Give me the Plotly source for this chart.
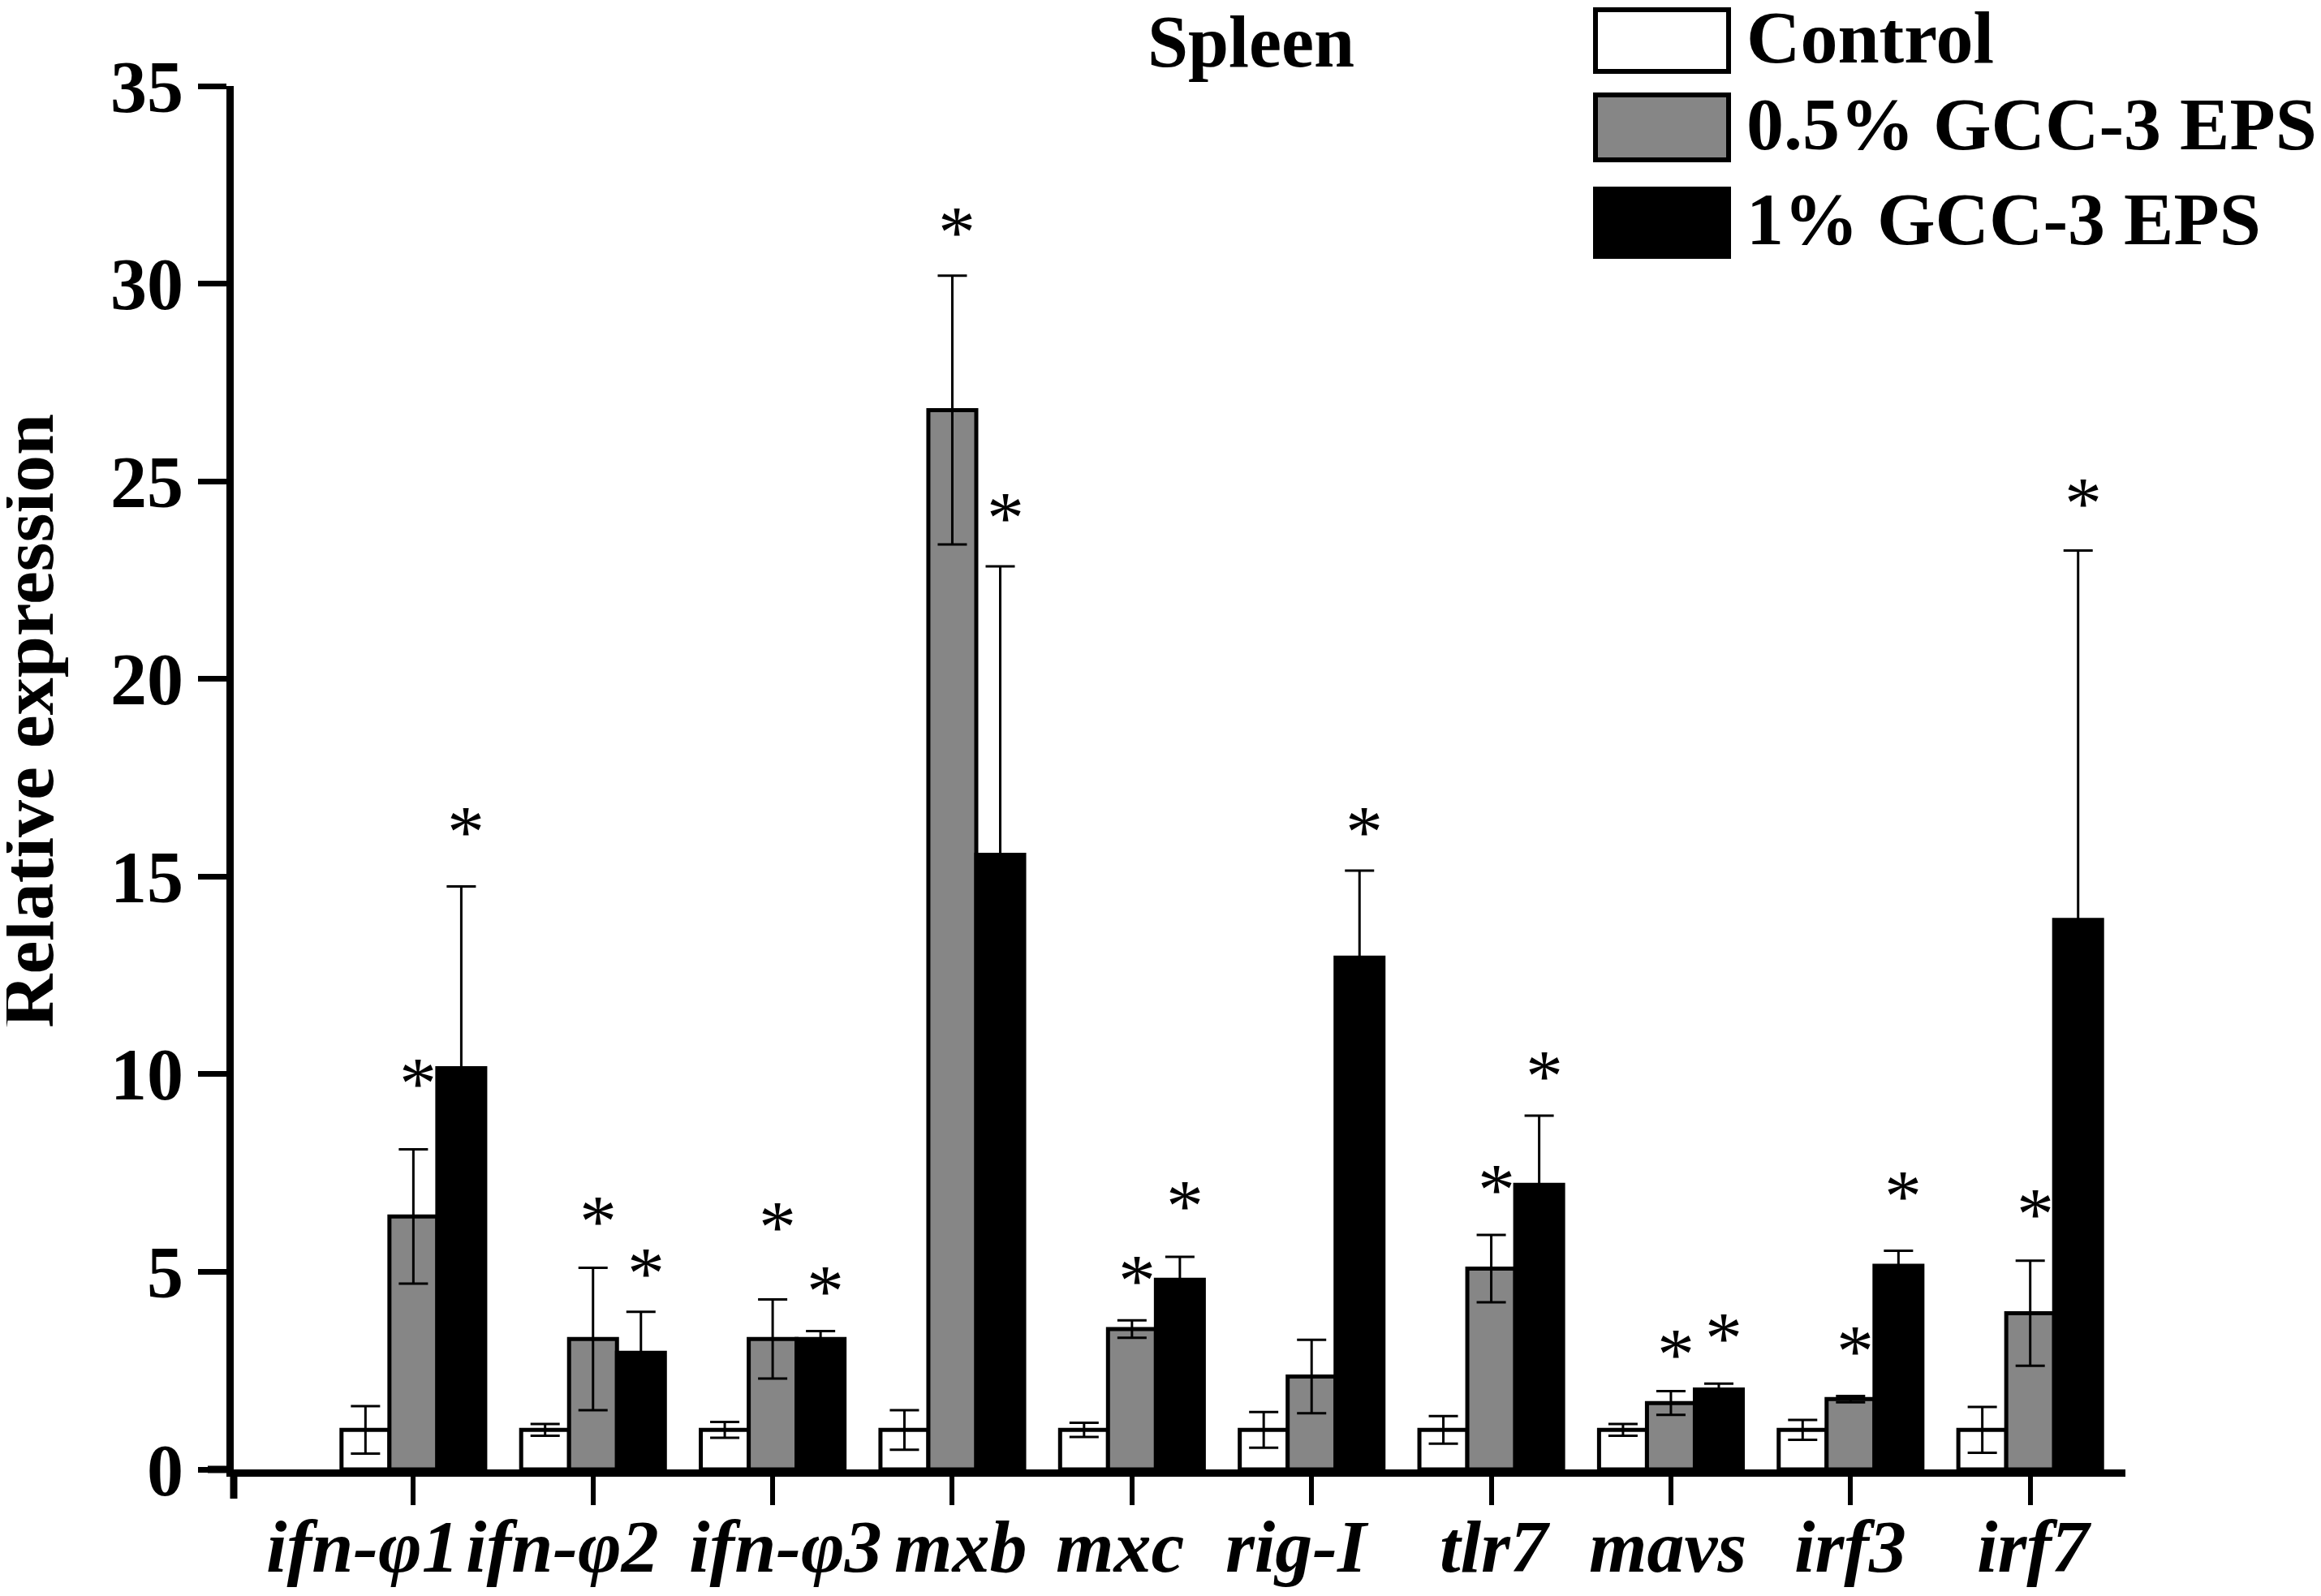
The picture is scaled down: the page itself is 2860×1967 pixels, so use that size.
"""Spleen relative expression bar chart (control vs two GCC-3 EPS doses)."""

import plotly.graph_objects as go

# ---- data ----
genes = ["ifn-φ1", "ifn-φ2", "ifn-φ3", "mxb", "mxc", "rig-I", "tlr7", "mavs", "irf3", "irf7"]

control_mean = [1.0, 1.0, 1.0, 1.0, 1.0, 1.0, 1.0, 1.0, 1.0, 1.0]
control_sd = [0.6, 0.15, 0.2, 0.5, 0.18, 0.45, 0.35, 0.15, 0.25, 0.58]

low_mean = [6.4, 3.3, 3.3, 26.8, 3.55, 2.35, 5.08, 1.68, 1.78, 3.95]
low_sd = [1.7, 1.8, 1.0, 3.4, 0.22, 0.93, 0.85, 0.3, 0.08, 1.33]

high_mean = [10.15, 2.95, 3.3, 15.55, 4.8, 12.95, 7.2, 2.02, 5.15, 13.9]
high_sd = [4.6, 1.04, 0.2, 7.3, 0.58, 2.2, 1.75, 0.15, 0.38, 9.35]

# heights (in axis units) at which the significance stars are printed; None = no star
low_star = [10.04, 6.55, 6.40, 31.57, 5.06, None, 7.34, 3.18, 3.26, 6.74]
high_star = [16.40, 5.24, 4.79, 24.34, 6.93, 16.40, 10.22, 3.60, 7.19, 24.72]

group_names = ["Control", "0.5% GCC-3 EPS", "1% GCC-3 EPS"]
group_colors = ["#ffffff", "#868686", "#000000"]

# the gene labels in the original are not exactly centred under their ticks
label_shift = [-62, -38, 16, 11, -15, -18, 5, -4, 0, 5]

FONT = "Liberation Serif"
W, H = 2860, 1967
OFF = 8  # default page margin of the html body
M = dict(l=288 - OFF, r=241 + OFF, t=106 - OFF, b=156 + OFF)

n_groups = 3
group_width = 0.8
bar_w = group_width / n_groups
idx = list(range(len(genes)))


def offsets(k):
    return [i + (k - 1) * bar_w for i in idx]


series = [
    (control_mean, control_sd),
    (low_mean, low_sd),
    (high_mean, high_sd),
]

fig = go.Figure()

for k, (mean, sd) in enumerate(series):
    fig.add_trace(
        go.Bar(
            x=offsets(k),
            y=mean,
            width=bar_w,
            name=group_names[k],
            marker=dict(color=group_colors[k], line=dict(color="#000000", width=5)),
            error_y=dict(type="data", array=sd, visible=True, color="#000000", thickness=3, width=18),
            showlegend=False,
            hoverinfo="x+y",
        )
    )

pw = W - M["l"] - M["r"]
ph = H - M["t"] - M["b"]


def px_x(v):
    # reference-picture pixel -> paper coordinate
    return (v - OFF - M["l"]) / pw


def px_y(v):
    return (H - M["b"] - (v - OFF)) / ph


annotations = []

# significance stars
for k, stars in [(1, low_star), (2, high_star)]:
    for x, s in zip(offsets(k), stars):
        if s is None:
            continue
        annotations.append(
            dict(
                x=x, y=s, xref="x", yref="y", text="*", showarrow=False,
                xanchor="center", yanchor="middle", xshift=6, yshift=-13,
                font=dict(family=FONT, size=92, color="#000000"),
            )
        )

# gene names under the axis
for i, (g, sh) in enumerate(zip(genes, label_shift)):
    annotations.append(
        dict(
            x=i, y=0, xref="x", yref="paper", text=g, showarrow=False,
            xanchor="center", yanchor="middle", xshift=sh, yshift=-95,
            font=dict(family=FONT, size=92, color="#000000", weight="bold", style="italic"),
        )
    )

# ---- hand-drawn legend (large swatches like the original) ----
legend_rows = [(12, 88), (117, 197), (233, 316)]
shapes = []
for (top, bot), name, color in zip(legend_rows, group_names, group_colors):
    shapes.append(
        dict(
            type="rect", xref="paper", yref="paper",
            x0=px_x(1966), x1=px_x(2130), y0=px_y(bot), y1=px_y(top),
            fillcolor=color, line=dict(color="#000000", width=6), layer="above",
        )
    )
    annotations.append(
        dict(
            xref="paper", yref="paper", x=px_x(2150), y=px_y((top + bot) / 2 - 4),
            xanchor="left", yanchor="middle", showarrow=False, text=name,
            font=dict(family=FONT, size=92, color="#000000", weight="bold"),
        )
    )

# axis lines run past the origin by a tick length, as in the original
shapes.append(dict(type="line", xref="paper", yref="paper", x0=0, x1=0, y0=0, y1=-36 / ph,
                   line=dict(color="#000000", width=9)))
shapes.append(dict(type="line", xref="paper", yref="paper", x0=-32 / pw, x1=0, y0=0, y1=0,
                   line=dict(color="#000000", width=9)))

annotations.append(
    dict(
        xref="paper", yref="paper", x=px_x(1541), y=px_y(52),
        xanchor="center", yanchor="middle", showarrow=False, text="Spleen",
        font=dict(family=FONT, size=90, color="#000000", weight="bold"),
    )
)
annotations.append(
    dict(
        xref="paper", yref="paper", x=px_x(34), y=px_y(889),
        xanchor="center", yanchor="middle", showarrow=False, textangle=-90,
        text="Relative expression",
        font=dict(family=FONT, size=92, color="#000000", weight="bold"),
    )
)

fig.update_layout(
    width=W,
    height=H,
    margin=M,
    barmode="overlay",
    plot_bgcolor="#ffffff",
    paper_bgcolor="#ffffff",
    shapes=shapes,
    annotations=annotations,
    showlegend=False,
)

fig.update_xaxes(
    range=[-1.0, 9.53],
    tickmode="array",
    tickvals=idx,
    showticklabels=False,
    automargin=False,
    ticks="outside",
    ticklen=35,
    tickwidth=6,
    tickcolor="#000000",
    showline=True,
    linecolor="#000000",
    linewidth=9,
    showgrid=False,
    zeroline=False,
)
fig.update_yaxes(
    range=[0, 35],
    tickvals=[0, 5, 10, 15, 20, 25, 30, 35],
    automargin=False,
    ticks="outside",
    ticklen=35,
    tickwidth=7,
    tickcolor="#000000",
    showline=True,
    linecolor="#000000",
    linewidth=9,
    showgrid=False,
    zeroline=False,
    tickfont=dict(family=FONT, size=90, color="#000000", weight="bold"),
)

fig.write_html("out.html")
